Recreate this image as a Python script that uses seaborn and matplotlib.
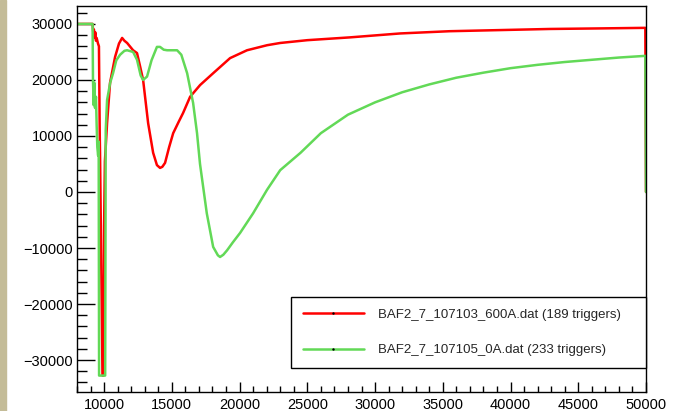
import matplotlib
matplotlib.use("Agg")
import matplotlib.pyplot as plt
import seaborn as sns
from matplotlib.lines import Line2D
from matplotlib.patches import Rectangle
from matplotlib.ticker import MultipleLocator

sns.set_style("white")
plt.rcParams['font.family'] = ['Liberation Sans', 'DejaVu Sans']

# waveform of run 107103 (600A)
red_x = [8000, 9150, 9200, 9250, 9300, 9350, 9400, 9450, 9550, 9620, 9680, 9700,
         9880, 9960, 10000, 10060, 10220, 10440, 10810, 11100, 11330, 11500, 11700,
         12140, 12430, 12650, 12880, 13250, 13620, 13900, 14130, 14300, 14500, 14800,
         15100, 15500, 15830, 16350, 17090, 18050, 19300, 20550, 22030, 23000, 25000,
         28150, 31850, 35500, 39200, 42900, 46600, 49950, 50000]
red_y = [30000, 30000, 28500, 29000, 27500, 28500, 27000, 27500, 26500, 26000, 10000, 7000,
         -32768, -32768, -6000, 5500, 12300, 19500, 24100, 26500, 27500, 27000, 26600,
         25300, 24800, 22500, 20000, 12300, 7000, 4800, 4300, 4500, 5200, 8000,
         10500, 12500, 14100, 17000, 19100, 21200, 23900, 25300, 26200, 26600, 27100,
         27600, 28300, 28700, 28900, 29100, 29200, 29300, 0]

# waveform of run 107105 (0A)
green_x = [8000, 9150, 9180, 9230, 9280, 9330, 9400, 9450, 9500, 9560, 9600, 9630,
           10060, 10080, 10120, 10220, 10450, 10660, 10900, 11180, 11500, 11700, 12140,
           12430, 12700, 12880, 13170, 13500, 13900, 14130, 14400, 14650, 15390, 15700,
           16130, 16570, 16860, 17080, 17580, 18050, 18400, 18560, 18800, 19080, 19500,
           20040, 21000, 22030, 23000, 24500, 26000, 28000, 30000, 32000, 34000, 36000,
           38000, 40000, 42000, 44000, 46000, 48000, 49950, 50000]
green_y = [30000, 30000, 20000, 15500, 19500, 15000, 17000, 12000, 8000, 6500, 9000, -32768,
           -32768, -32768, 11000, 16400, 19500, 21200, 23500, 24500, 25200, 25300, 25000,
           23600, 20800, 20000, 20600, 23500, 25900, 25900, 25400, 25300, 25300, 24500,
           21200, 15900, 10500, 5000, -3800, -9800, -11300, -11600, -11200, -10400, -9000,
           -7300, -3800, 400, 3900, 7000, 10500, 13800, 16000, 17800, 19200, 20400,
           21300, 22100, 22700, 23200, 23600, 24000, 24300, 0]

labels = ["BAF2_7_107103_600A.dat (189 triggers)", "BAF2_7_107105_0A.dat (233 triggers)"]
red = "#ff0000"
green = "#62d957"

fig = plt.figure(figsize=(6.81, 4.11), dpi=100)
fig.patches.append(Rectangle((0, 0), 6 / 681, 1, transform=fig.transFigure,
                             color="#c4bc98", zorder=0))
ax = fig.add_axes([77 / 681, 19 / 411, 569 / 681, 386 / 411])

sns.lineplot(x=red_x, y=red_y, sort=False, estimator=None, color=red, lw=1.8, ax=ax)
sns.lineplot(x=green_x, y=green_y, sort=False, estimator=None, color=green, lw=1.8, ax=ax)

ax.set_xlim(8000, 50000)
ax.set_ylim(-35700, 33200)
ax.xaxis.set_major_locator(MultipleLocator(5000))
ax.xaxis.set_minor_locator(MultipleLocator(1000))
ax.yaxis.set_major_locator(MultipleLocator(10000))
ax.yaxis.set_minor_locator(MultipleLocator(2000))
ax.tick_params(axis="y", which="major", direction="in", length=13, width=1, labelsize=10.5, pad=3)
ax.tick_params(axis="y", which="minor", direction="in", length=7, width=1)
ax.tick_params(axis="x", which="major", direction="in", length=7, width=1, labelsize=10.5, pad=4)
ax.tick_params(axis="x", which="minor", direction="in", length=4, width=1)
ax.tick_params(bottom=True, left=True, which="both", colors="black")
for s in ax.spines.values():
    s.set_color("black")
    s.set_linewidth(1)

handles = [Line2D([], [], color=c, lw=1.8, marker=".", markersize=1.5,
                  markerfacecolor="black", markeredgecolor="black") for c in (red, green)]
leg = ax.legend(handles, labels, loc="lower left", bbox_to_anchor=(0.376, 0.062, 0.624, 0.189),
                mode="expand", borderaxespad=0, fontsize=9.5, frameon=True, fancybox=False,
                edgecolor="black", framealpha=1, handlelength=4.6, handletextpad=1.1,
                labelspacing=1.75, borderpad=0.9, numpoints=1)
leg.get_frame().set_linewidth(1)

fig.savefig("out.png", dpi=100)
